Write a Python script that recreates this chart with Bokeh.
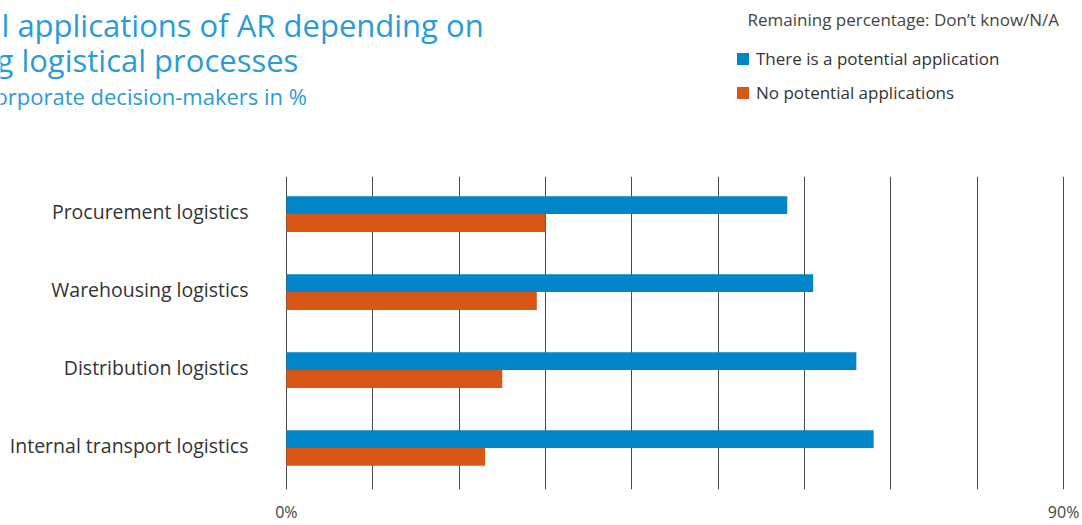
from bokeh.plotting import figure
from bokeh.layouts import column
from bokeh.models import (Range1d, FixedTicker, PrintfTickFormatter,
                          Legend, LegendItem, ColumnDataSource)
from bokeh.core.properties import value
from bokeh.transform import dodge
from bokeh.embed import file_html
from bokeh.resources import INLINE

categories = ["Procurement logistics", "Warehousing logistics",
              "Distribution logistics", "Internal transport logistics"]
potential = [58, 61, 66, 68]
no_potential = [30, 29, 25, 23]
series_names = ["There is a potential application", "No potential applications"]
title_lines = ["l applications of AR depending on", "g logistical processes"]
subtitle = "orporate decision-makers in %"
note = "Remaining percentage: Don\u2019t know/N/A"
grid_ticks = [0, 10, 20, 30, 40, 50, 60, 70, 80, 90]
axis_ticks = [0, 90]

BLUE = "#0085C8"
ORANGE = "#D95716"
TITLE_BLUE = "#2A9BD7"
FONT = "Open Sans"

W = 1082
HEAD_H = 176
MAIN_H = 525 - HEAD_H

# ---------------- header (titles + legend) ----------------
h = figure(width=W, height=HEAD_H, output_backend="svg", toolbar_location=None,
           title_location=None,
           x_range=Range1d(0, W), y_range=Range1d(HEAD_H, 0), min_border=0)
h.frame_align = False
h.axis.visible = False
h.grid.visible = False
h.outline_line_color = None
h.background_fill_color = "white"
h.border_fill_color = "white"

h.text(x=[1], y=[24], text=[title_lines[0]], text_font=value(FONT),
       text_font_size="31px", text_color=TITLE_BLUE, text_baseline="alphabetic",
       text_align="left")
h.text(x=[-4], y=[59], text=[title_lines[1]], text_font=value(FONT),
       text_font_size="31px", text_color=TITLE_BLUE, text_baseline="alphabetic",
       text_align="left")
h.text(x=[-6], y=[95], text=[subtitle], text_font=value(FONT),
       text_font_size="22px", text_color=TITLE_BLUE, text_baseline="alphabetic",
       text_align="left")
h.text(x=[747], y=[19], text=[note], text_font=value(FONT),
       text_font_size="17px", text_color="#444444", text_baseline="alphabetic",
       text_align="left")

# legend swatches: zero-size proxies sharing the series colours
lg1 = h.hbar(y=[0], right=[0], left=0, height=0, fill_color=BLUE, line_color=None)
lg2 = h.hbar(y=[0], right=[0], left=0, height=0, fill_color=ORANGE, line_color=None)
legend = Legend(items=[LegendItem(label=series_names[0], renderers=[lg1]),
                       LegendItem(label=series_names[1], renderers=[lg2])],
                location=(735, HEAD_H - 104),
                orientation="vertical",
                glyph_width=15, glyph_height=15, label_standoff=6,
                spacing=11, padding=0, margin=0,
                label_text_font=FONT, label_text_font_size="17px",
                label_text_color="#333333", label_height=23,
                border_line_color=None, background_fill_alpha=0)
h.add_layout(legend, "center")

# ---------------- main chart ----------------
ypos = list(range(len(categories)))
src = ColumnDataSource(dict(y=ypos, pot=potential, nop=no_potential))

p = figure(width=W, height=MAIN_H, output_backend="svg", toolbar_location=None,
           title_location=None,
           y_range=Range1d(3.564, -0.451),
           x_range=Range1d(-0.1, 90.1),
           min_border_left=285, min_border_right=18, min_border_top=0, min_border_bottom=33)
p.frame_align = False
p.outline_line_color = None
p.background_fill_color = "white"
p.border_fill_color = "white"

p.hbar(y=dodge("y", -0.083), right="pot", left=0, height=0.229,
       source=src, fill_color=BLUE, line_color=None)
p.hbar(y=dodge("y", 0.146), right="nop", left=0, height=0.229,
       source=src, fill_color=ORANGE, line_color=None)

p.ygrid.grid_line_color = None
p.xgrid.ticker = FixedTicker(ticks=grid_ticks)
p.xgrid.grid_line_color = "#4a4a4a"
p.xgrid.grid_line_width = 1
p.xgrid.level = "underlay"

xa = p.xaxis[0]
xa.ticker = FixedTicker(ticks=axis_ticks)
xa.formatter = PrintfTickFormatter(format="%d%%")
xa.axis_line_color = None
xa.major_tick_line_color = None
xa.minor_tick_line_color = None
xa.major_tick_out = 0
xa.major_tick_in = 0
xa.major_label_text_font = FONT
xa.major_label_text_font_size = "16px"
xa.major_label_text_color = "#444444"
xa.major_label_standoff = 11

ya = p.yaxis[0]
ya.ticker = FixedTicker(ticks=ypos)
ya.major_label_overrides = {i: c for i, c in zip(ypos, categories)}
ya.axis_line_color = None
ya.major_tick_line_color = None
ya.minor_tick_line_color = None
ya.minor_tick_out = 0
ya.major_tick_out = 0
ya.major_tick_in = 0
ya.major_label_text_font = FONT
ya.major_label_text_font_size = "19.5px"
ya.major_label_text_color = "#333333"
ya.major_label_standoff = 37

layout = column(h, p, spacing=0)
open("out.html", "w").write(file_html(layout, INLINE))
